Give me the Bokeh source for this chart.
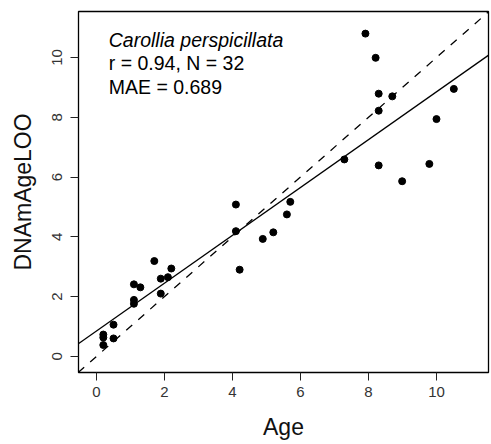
from bokeh.plotting import figure
from bokeh.models import FixedTicker, Label, Slope, Range1d
from bokeh.embed import file_html
from bokeh.resources import INLINE

age = [7.91, 8.21, 8.30, 8.70, 8.30, 10.51, 10.00, 7.29, 8.30, 9.79, 8.99,
       4.10, 5.70, 5.60, 4.10, 5.20, 4.89, 4.21, 1.70, 2.20, 1.89, 2.10,
       1.10, 1.29, 1.89, 1.10, 1.10, 0.50, 0.20, 0.20, 0.50, 0.20]
dnam_age_loo = [10.80, 9.99, 8.79, 8.70, 8.22, 8.95, 7.94, 6.59, 6.39, 6.44, 5.86,
                5.08, 5.17, 4.75, 4.19, 4.15, 3.93, 2.90, 3.19, 2.94, 2.60, 2.65,
                2.41, 2.31, 2.10, 1.89, 1.76, 1.06, 0.73, 0.63, 0.60, 0.38]
x_ticks = [0, 2, 4, 6, 8, 10]
y_ticks = [0, 2, 4, 6, 8, 10]
fit_intercept = 0.85
fit_slope = 0.80
species = "Carollia perspicillata"
stats_line = "r = 0.94, N = 32"
mae_line = "MAE = 0.689"

FONT = "Liberation Sans"

p = figure(width=491, height=444, output_backend="svg", toolbar_location=None,
           x_range=Range1d(-0.53, 11.53), y_range=Range1d(-0.54, 11.54),
           min_border_left=78, min_border_right=3, min_border_top=11,
           min_border_bottom=72)
p.grid.visible = False
p.background_fill_color = "white"
p.border_fill_color = "white"
p.outline_line_color = "black"
p.outline_line_width = 1.3

for ax, ticks in ((p.xaxis[0], x_ticks), (p.yaxis[0], y_ticks)):
    ax.ticker = FixedTicker(ticks=ticks)
    ax.minor_tick_line_color = None
    ax.axis_line_color = None
    ax.major_tick_in = 0
    ax.major_tick_out = 8
    ax.major_tick_line_color = "#222222"
    ax.major_tick_line_width = 1
    ax.major_label_text_font = FONT
    ax.major_label_text_font_size = "15px"
    ax.major_label_text_color = "#333333"
    ax.axis_label_text_font = FONT
    ax.axis_label_text_font_size = "23px"
    ax.axis_label_text_font_style = "normal"
    ax.axis_label_text_color = "#111111"

p.xaxis.axis_label = "Age"
p.yaxis.axis_label = "DNAmAgeLOO"
p.yaxis.major_label_orientation = "vertical"
p.xaxis.major_label_standoff = 6
p.yaxis.major_label_standoff = 8
p.xaxis.axis_label_standoff = 14
p.yaxis.axis_label_standoff = 14

p.add_layout(Slope(gradient=1, y_intercept=0, line_color="black",
                   line_width=1.3, line_dash="8 8"))
p.add_layout(Slope(gradient=fit_slope, y_intercept=fit_intercept,
                   line_color="black", line_width=1.4))

p.scatter(age, dnam_age_loo, size=7, fill_color="black", line_color="black")

p.add_layout(Label(x=0.36, y=10.23, text=species, text_font=FONT,
                   text_font_size="19.5px", text_font_style="italic",
                   text_color="black"))
p.add_layout(Label(x=0.36, y=9.46, text=stats_line, text_font=FONT,
                   text_font_size="19.5px", text_color="black"))
p.add_layout(Label(x=0.36, y=8.63, text=mae_line, text_font=FONT,
                   text_font_size="19.5px", text_color="black"))

open("out.html", "w").write(file_html(p, INLINE))
